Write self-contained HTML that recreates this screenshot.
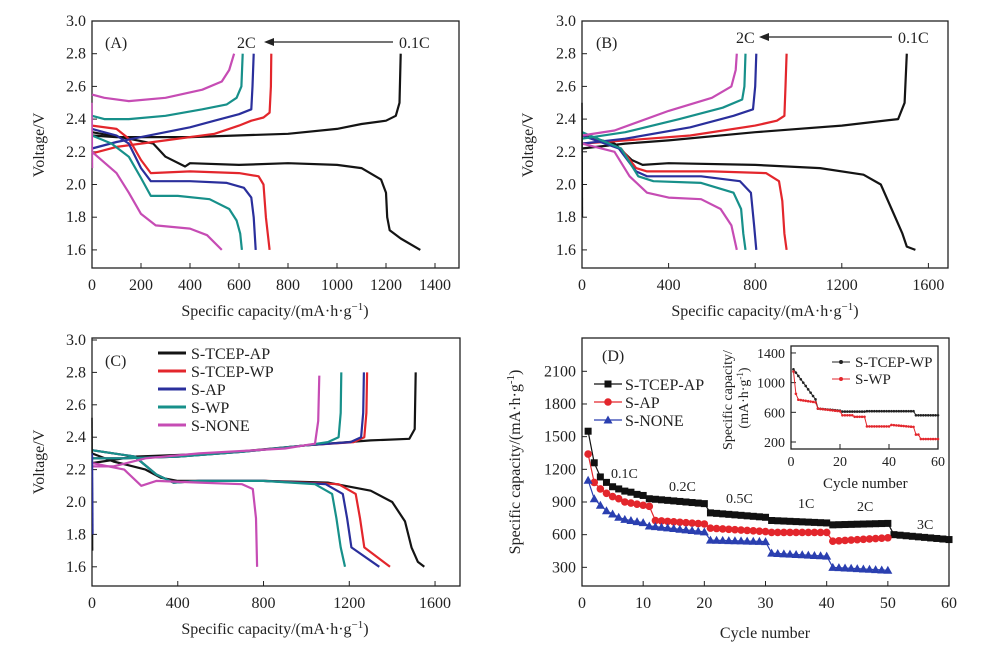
<!DOCTYPE html>
<html><head><meta charset="utf-8">
<style>
html,body{margin:0;padding:0;background:#fff;}
svg{display:block;font-family:"Liberation Serif",serif;}
</style></head>
<body>
<svg id="s" width="1000" height="645" viewBox="0 0 1000 645" xmlns="http://www.w3.org/2000/svg"></svg>
<script>
var S=document.getElementById('s'),out='';
var C={k:'#141414',r:'#e3262c',b:'#2a2f9c',t:'#17908a',m:'#c64cb4'};
function ax(p){
  out+='<rect x="'+p.bx0+'" y="'+p.by0+'" width="'+(p.bx1-p.bx0)+'" height="'+(p.by1-p.by0)+'" fill="none" stroke="#222" stroke-width="1.3"/>';
  p.xt.forEach(function(v){var x=p.xs(v);out+='<line x1="'+x+'" y1="'+p.by1+'" x2="'+x+'" y2="'+(p.by1-5)+'" stroke="#222"/>';
    out+='<text x="'+x+'" y="'+(p.by1+(p.fs?17:22))+'" font-size="'+(p.fs||16)+'" text-anchor="middle" fill="#222">'+v+'</text>';});
  p.yt.forEach(function(v){var y=p.ys(v);out+='<line x1="'+p.bx0+'" y1="'+y+'" x2="'+(p.bx0+5)+'" y2="'+y+'" stroke="#222"/>';
    out+='<text x="'+(p.bx0-6)+'" y="'+(y+5)+'" font-size="'+(p.fs||16)+'" text-anchor="end" fill="#222">'+(p.yf?p.yf(v):v)+'</text>';});
}
function line(p,pts,col,w){var d='';pts.forEach(function(q,i){d+=(i?'L':'M')+p.xs(q[0]).toFixed(1)+' '+p.ys(q[1]).toFixed(1);});
  out+='<path d="'+d+'" fill="none" stroke="'+col+'" stroke-width="'+(w||2.2)+'" stroke-linejoin="round"/>';}
function mk(x0,x1,y0,y1,bx0,bx1,by0,by1,vx0,px0,sx,vy0,py0,sy){return {bx0:bx0,bx1:bx1,by0:by0,by1:by1,xs:function(v){return px0+(v-vx0)*sx},ys:function(v){return py0-(v-vy0)*sy}};}
var vy=[1.6,1.8,2.0,2.2,2.4,2.6,2.8,3.0],f1=function(v){return v.toFixed(1)};
var A=mk(0,0,0,0,92,459,21,268,0,92,0.245,3.0,21,163.5);A.xt=[0,200,400,600,800,1000,1200,1400];A.yt=vy;A.yf=f1;ax(A);
line(A,[[0,2.30],[100,2.29],[400,2.29],[800,2.31],[1000,2.34],[1100,2.37],[1200,2.39],[1240,2.42],[1255,2.5],[1260,2.8]],C.k);
line(A,[[0,2.32],[150,2.28],[250,2.25],[300,2.17],[380,2.11],[400,2.13],[600,2.12],[800,2.13],[1000,2.12],[1100,2.10],[1180,2.03],[1200,1.95],[1205,1.8],[1215,1.72],[1260,1.67],[1340,1.60]],C.k);
line(A,[[0,2.19],[100,2.23],[300,2.27],[500,2.31],[600,2.36],[650,2.39],[700,2.41],[725,2.44],[730,2.6],[732,2.8]],C.r);
line(A,[[0,2.36],[100,2.34],[150,2.28],[200,2.15],[240,2.07],[400,2.08],[600,2.07],[680,2.05],[700,2.0],[710,1.8],[725,1.6]],C.r);
line(A,[[0,2.22],[100,2.26],[200,2.29],[300,2.32],[400,2.35],[500,2.39],[600,2.43],[650,2.46],[655,2.6],[660,2.8]],C.b);
line(A,[[0,2.34],[100,2.30],[150,2.25],[200,2.10],[240,2.02],[400,2.02],[550,2.01],[620,1.98],[650,1.92],[660,1.8],[668,1.6]],C.b);
line(A,[[0,2.42],[50,2.40],[150,2.40],[300,2.42],[450,2.46],[550,2.49],[590,2.53],[610,2.6],[615,2.8]],C.t);
line(A,[[0,2.30],[80,2.25],[150,2.17],[200,2.04],[240,1.93],[350,1.93],[480,1.91],[560,1.85],[590,1.78],[605,1.7],[612,1.6]],C.t);
line(A,[[0,2.55],[50,2.53],[150,2.51],[300,2.53],[450,2.58],[530,2.63],[560,2.7],[580,2.8]],C.m);
line(A,[[0,2.20],[100,2.07],[150,1.95],[200,1.82],[260,1.75],[400,1.73],[470,1.69],[530,1.60]],C.m);
line(A,[[0,2.5],[2,2.1]],C.m,1.5);
out+='<text x="105" y="48" font-size="16" fill="#222">(A)</text><text x="237" y="48" font-size="16" fill="#222">2C</text><text x="399" y="48" font-size="16" fill="#222">0.1C</text>';
out+='<line x1="270" y1="42" x2="393" y2="42" stroke="#222" stroke-width="1.3"/><path d="M264 42 L274 38 L274 46Z" fill="#222"/>';
var B=mk(0,0,0,0,582,948,21,268,0,582,0.2165,3.0,21,163.5);B.xt=[0,400,800,1200,1600];B.yt=vy;B.yf=f1;ax(B);
line(B,[[0,2.22],[200,2.25],[400,2.27],[800,2.32],[1200,2.36],[1460,2.40],[1490,2.5],[1500,2.8]],C.k);
line(B,[[0,2.30],[150,2.25],[230,2.15],[280,2.12],[400,2.13],[800,2.12],[1100,2.10],[1300,2.06],[1380,2.0],[1430,1.85],[1480,1.7],[1500,1.62],[1540,1.60]],C.k);
line(B,[[0,2.25],[200,2.27],[500,2.30],[800,2.36],[900,2.39],[935,2.42],[940,2.6],[945,2.8]],C.r);
line(B,[[0,2.30],[180,2.22],[250,2.10],[300,2.08],[600,2.08],[850,2.07],[910,2.02],[925,1.9],[935,1.7],[945,1.6]],C.r);
line(B,[[0,2.25],[200,2.28],[500,2.35],[700,2.42],[790,2.46],[800,2.6],[805,2.8]],C.b);
line(B,[[0,2.30],[170,2.22],[250,2.08],[300,2.05],[550,2.05],[730,2.02],[780,1.95],[795,1.75],[805,1.6]],C.b);
line(B,[[0,2.28],[200,2.32],[450,2.40],[650,2.47],[740,2.52],[750,2.6],[755,2.8]],C.t);
line(B,[[0,2.32],[180,2.22],[260,2.05],[330,2.02],[550,2.01],[700,1.95],[735,1.85],[745,1.7],[755,1.6]],C.t);
line(B,[[0,2.30],[150,2.33],[400,2.45],[600,2.53],[690,2.60],[710,2.7],[715,2.8]],C.m);
line(B,[[0,2.25],[150,2.20],[220,2.05],[300,1.95],[400,1.92],[550,1.91],[640,1.85],[690,1.75],[715,1.6]],C.m);
line(B,[[0,2.5],[2,1.8]],C.k,1.5);
out+='<text x="596" y="48" font-size="16" fill="#222">(B)</text><text x="736" y="43" font-size="16" fill="#222">2C</text><text x="898" y="43" font-size="16" fill="#222">0.1C</text>';
out+='<line x1="765" y1="37" x2="892" y2="37" stroke="#222" stroke-width="1.3"/><path d="M759 37 L769 33 L769 41Z" fill="#222"/>';
var Cp=mk(0,0,0,0,92,460,338,586,0,92,0.2144,3.0,340,162);Cp.xt=[0,400,800,1200,1600];Cp.yt=vy;Cp.yf=f1;ax(Cp);
function pair(P,ce,de,drop,col){
 line(P,[[0,2.27],[150,2.27],[400,2.28],[700,2.31],[1000,2.35],[ce-60,2.37],[ce-10,2.4],[ce,2.55],[ce+3,2.8]],col);
 line(P,[[0,2.32],[200,2.28],[300,2.17],[380,2.12],[500,2.13],[800,2.13],[drop-80,2.11],[drop,2.05],[drop+20,1.9],[drop+40,1.72],[de,1.6]],col);}
line(Cp,[[0,2.24],[200,2.28],[600,2.30],[1000,2.35],[1300,2.38],[1480,2.39],[1505,2.45],[1510,2.8]],C.k);
line(Cp,[[0,2.30],[100,2.25],[250,2.20],[320,2.15],[400,2.13],[800,2.13],[1100,2.12],[1300,2.07],[1400,2.0],[1460,1.88],[1490,1.72],[1520,1.63],[1550,1.6]],C.k);
pair(Cp,1280,1390,1230,C.r);pair(Cp,1265,1340,1170,C.b);pair(Cp,1160,1180,1120,C.t);
line(Cp,[[0,2.22],[100,2.22],[250,2.27],[500,2.30],[900,2.33],[1040,2.36],[1055,2.5],[1060,2.78]],C.m);
line(Cp,[[0,2.24],[150,2.20],[230,2.10],[300,2.13],[500,2.12],[700,2.11],[750,2.08],[765,1.9],[770,1.6]],C.m);
line(Cp,[[0,2.52],[3,1.7]],C.k,1.5);line(Cp,[[2,2.3],[4,1.8]],C.b,1.5);
out+='<text x="105" y="366" font-size="16" fill="#222">(C)</text>';
[['S-TCEP-AP',C.k],['S-TCEP-WP',C.r],['S-AP',C.b],['S-WP',C.t],['S-NONE',C.m]].forEach(function(e,i){var y=353+i*18;
 out+='<line x1="158" y1="'+y+'" x2="186" y2="'+y+'" stroke="'+e[1]+'" stroke-width="3"/><text x="191" y="'+(y+6)+'" font-size="16" fill="#222">'+e[0]+'</text>';});
var D=mk(0,0,0,0,582,949,338,586,0,582,6.117,0,600,0.1089);D.xt=[0,10,20,30,40,50,60];D.yt=[300,600,900,1200,1500,1800,2100];ax(D);
var k=[1550,1260,1130,1080,1040,1020,1000,990,970,960],r=[1340,1080,1020,980,950,930,900,890,880,870,860],tr=[1100,930,870,820,790,760,740,730,720,710];
for(var i=11;i<=20;i++)k.push(930-(i-11)*5);for(i=21;i<=30;i++)k.push(800-(i-21)*4.5);for(i=31;i<=40;i++)k.push(730-(i-31)*2.5);for(i=41;i<=50;i++)k.push(690+(i-41)*1.5);for(i=51;i<=60;i++)k.push(600-(i-51)*5);
for(i=12;i<=20;i++)r.push(730-(i-12)*4);for(i=21;i<=30;i++)r.push(660-(i-21)*3.5);for(i=31;i<=40;i++)r.push(620);for(i=41;i<=50;i++)r.push(540+(i-41)*3.5);
for(i=11;i<=20;i++)tr.push(680-(i-11)*6);for(i=21;i<=30;i++)tr.push(550-(i-21)*1.5);for(i=31;i<=40;i++)tr.push(430-(i-31)*3);for(i=41;i<=50;i++)tr.push(300-(i-41)*3);
function sym(x,y,col,shape){
  if(shape=='s')out+='<rect x="'+(x-3.5)+'" y="'+(y-3.5)+'" width="7" height="7" fill="'+col+'"/>';
  else if(shape=='c')out+='<circle cx="'+x+'" cy="'+y+'" r="3.8" fill="'+col+'"/>';
  else out+='<path d="M'+x+' '+(y-4.5)+'L'+(x+4.5)+' '+(y+3.5)+'L'+(x-4.5)+' '+(y+3.5)+'Z" fill="'+col+'"/>';}
function plotS(arr,col,shape){var pts=arr.map(function(v,j){return [j+1,v]});line(D,pts,col,1.2);
 pts.forEach(function(q){sym(D.xs(q[0]),D.ys(q[1]),col,shape);});}
plotS(k,'#111','s');plotS(r,'#e3262c','c');plotS(tr,'#2a3fb0','t');
out+='<text x="602" y="361" font-size="16" fill="#222">(D)</text>';
[['S-TCEP-AP','#111','s'],['S-AP','#e3262c','c'],['S-NONE','#2a3fb0','t']].forEach(function(e,i){var y=384+i*18,x=608;
 out+='<line x1="594" y1="'+y+'" x2="622" y2="'+y+'" stroke="'+e[1]+'" stroke-width="1.3"/>';sym(x,y,e[1],e[2]);
 out+='<text x="625" y="'+(y+6)+'" font-size="16" fill="#222">'+e[0]+'</text>';});
[['0.1C',611,478],['0.2C',669,491],['0.5C',726,503],['1C',798,508],['2C',857,511],['3C',917,529]].forEach(function(e){out+='<text x="'+e[1]+'" y="'+e[2]+'" font-size="14" fill="#222">'+e[0]+'</text>';});
var I=mk(0,0,0,0,791,938,346,449,0,791,2.45,200,442,0.0742);I.xt=[0,20,40,60];I.yt=[200,600,1000,1400];I.fs=14;ax(I);
var ik=[],ir=[];
for(i=1;i<=60;i++){var v,w;
 if(i<=10){v=1180-(i-1)*45;if(v<760)v=760;w=i<3?1150-(i-1)*300:770-(i-3)*5;}
 else if(i<=20){v=650-(i-11)*3;w=650-(i-11)*4;}
 else if(i<=30){v=610;w=i<=25?560:540;}
 else if(i<=40){v=615;w=410;}
 else if(i<=50){v=615;w=430-(i-41)*3;}
 else {v=560;w=i<53?300:240;}
 ik.push([i,v]);ir.push([i,w]);}
line(I,ik,'#222',1);line(I,ir,'#e3262c',1);
ik.forEach(function(q){out+='<circle cx="'+I.xs(q[0])+'" cy="'+I.ys(q[1])+'" r="1.3" fill="#222"/>';});
ir.forEach(function(q){out+='<circle cx="'+I.xs(q[0])+'" cy="'+I.ys(q[1])+'" r="1.3" fill="#e3262c"/>';});
out+='<line x1="832" y1="362" x2="850" y2="362" stroke="#222"/><circle cx="841" cy="362" r="2" fill="#222"/><text x="855" y="367" font-size="15" fill="#222">S-TCEP-WP</text>';
out+='<line x1="832" y1="379" x2="850" y2="379" stroke="#e3262c"/><circle cx="841" cy="379" r="2" fill="#e3262c"/><text x="855" y="384" font-size="15" fill="#222">S-WP</text>';
out+='<text x="823" y="488" font-size="15" fill="#222">Cycle number</text>';
out+='<text transform="translate(732,400) rotate(-90)" font-size="14" text-anchor="middle" fill="#222">Specific capacity/</text>';
out+='<text transform="translate(748,398) rotate(-90)" font-size="14" text-anchor="middle" fill="#222">(mA·h·g<tspan dy="-5" font-size="9">-1</tspan><tspan dy="5">)</tspan></text>';
function xl(x,y,t){out+='<text x="'+x+'" y="'+y+'" font-size="16" text-anchor="middle" fill="#222">'+t+'</text>';}
var cap='Specific capacity/(mA·h·g<tspan dy="-6" font-size="11">−1</tspan><tspan dy="6">)</tspan>';
xl(275,316,cap);xl(765,316,cap);xl(275,634,cap);xl(765,638,'Cycle number');
function yl(x,y,t){out+='<text transform="translate('+x+','+y+') rotate(-90)" font-size="16" text-anchor="middle" fill="#222">'+t+'</text>';}
yl(44,145,'Voltage/V');yl(533,145,'Voltage/V');yl(44,462,'Voltage/V');
yl(520,462,'Specific capacity/(mA·h·g<tspan dy="-6" font-size="11">-1</tspan><tspan dy="6">)</tspan>');
S.innerHTML=out;
</script>
</body></html>
